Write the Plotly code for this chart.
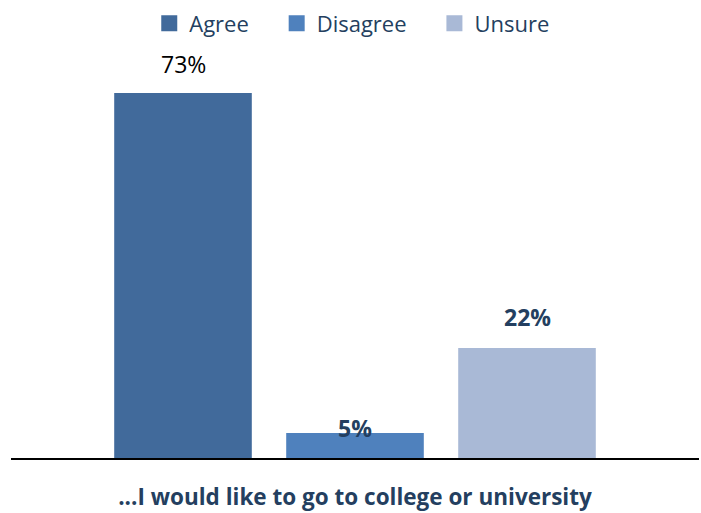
import plotly.graph_objects as go

category = "...I would like to go to college or university"
series = ["Agree", "Disagree", "Unsure"]
values = [73, 5, 22]
labels = ["73%", "5%", "22%"]
colors = ["#416A9B", "#4F81BD", "#A9B9D6"]
label_colors = ["#000000", "#243F60", "#243F60"]
label_bold = [False, True, True]
label_shift = [29, 5, 31]

bargap = 0.25
bargroupgap = 0.2
FONT = "Open Sans"
PAD = "\u00a0" * 4

fig = go.Figure()
for name, v, c in zip(series, values, colors):
    fig.add_trace(go.Bar(x=[0], y=[v], name=name, showlegend=False,
                         marker=dict(color=c, line=dict(width=0))))
# legend entries with larger square symbols
for name, c in zip(series, colors):
    fig.add_trace(go.Scatter(x=[None], y=[None], name=name + PAD, mode="markers",
                             marker=dict(symbol="square", size=16, color=c)))

n = len(series)
slot = (1 - bargap) / n
for i, (v, t, col, b, s) in enumerate(zip(values, labels, label_colors, label_bold, label_shift)):
    xpos = (i - (n - 1) / 2) * slot
    fig.add_annotation(
        x=xpos, y=v, xref="x", yref="y",
        text=f"<b>{t}</b>" if b else t,
        showarrow=False, yanchor="middle", yshift=s,
        font=dict(size=23, color=col, family=FONT),
    )

fig.update_layout(
    width=701, height=513,
    margin=dict(l=11, r=2, t=58, b=55, autoexpand=False),
    paper_bgcolor="white", plot_bgcolor="white",
    barmode="group", bargap=bargap, bargroupgap=bargroupgap,
    font=dict(family=FONT, color="#243F60"),
    showlegend=True,
    legend=dict(
        orientation="h", x=0.512, xanchor="center",
        yref="container", y=0.995, yanchor="top",
        font=dict(size=22, color="#243F60", family=FONT),
        itemwidth=30, traceorder="normal", itemsizing="trace",
    ),
    xaxis=dict(
        range=[-0.5, 0.5], tickvals=[0], ticktext=[f"<b>{category}</b>"],
        showline=True, linecolor="black", linewidth=2,
        ticks="", showgrid=False, zeroline=False, automargin=False,
        tickfont=dict(size=22.5, color="#243F60", family=FONT),
        ticklabelstandoff=18,
    ),
    yaxis=dict(range=[0, 80], visible=False, showgrid=False, zeroline=False, automargin=False),
)

fig.write_html(
    "out.html",
    config={"responsive": False, "displayModeBar": False},
    post_script="document.body.style.margin='0';document.body.style.overflow='hidden';",
)
